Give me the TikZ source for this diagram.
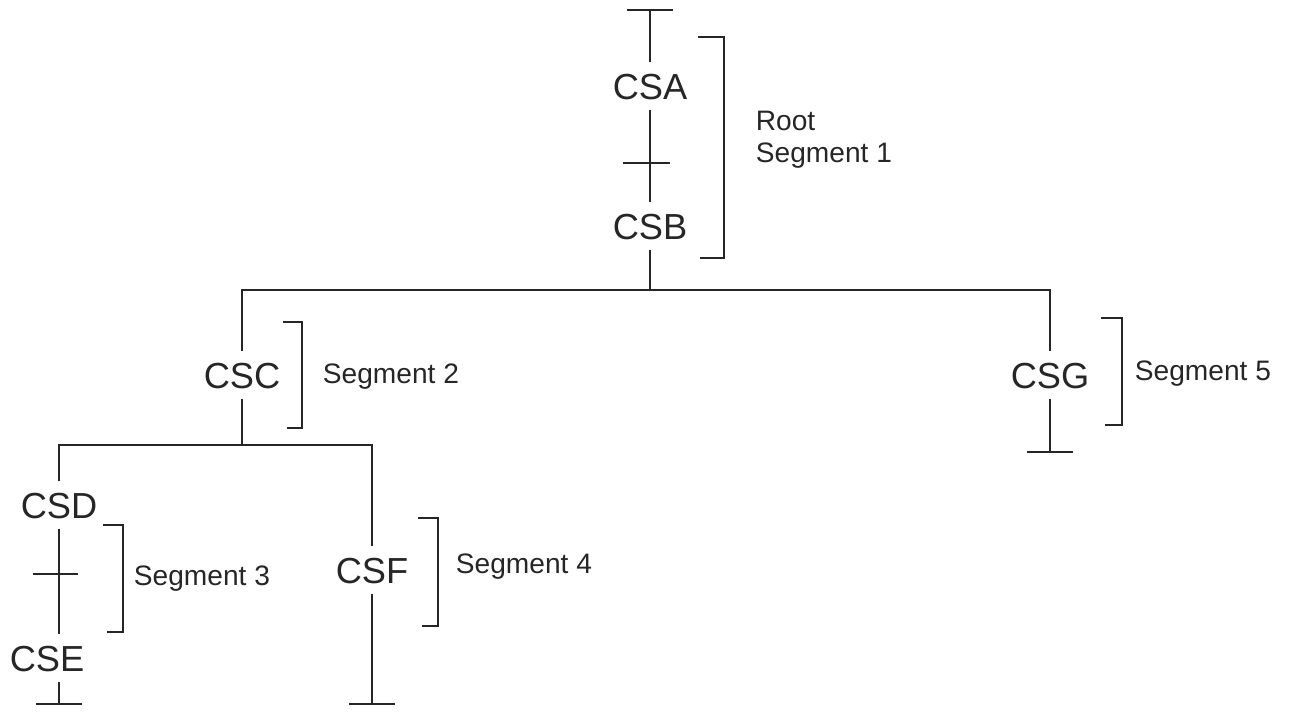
\documentclass[tikz,border=0pt]{standalone}
\usepackage{fontspec}
\setmainfont{Liberation Sans}
\usetikzlibrary{arrows.meta}

\begin{document}
\begin{tikzpicture}[x=0.01cm, y=-0.01cm, line width=0.5pt, color=black!85,
    seg/.style={font=\fontsize{10.3}{12}\selectfont, inner xsep=0,
        inner ysep=0.1cm, text height=0.26cm, text depth=0},
    note/.style={font=\fontsize{8}{10}\selectfont, anchor=base west, inner sep=0},
    tee/.style={-{Bar[width=0.46cm]}}]

    \useasboundingbox (0,0) rectangle (1291,711);

    % Segments
    \node[seg] (CSA) at (650,86) {CSA};
    \node[seg] (CSB) at (650,226) {CSB};
    \node[seg] (CSC) at (242,375) {CSC};
    \node[seg] (CSD) at (59,505) {CSD};
    \node[seg] (CSE) at (47,658) {CSE};
    \node[seg] (CSF) at (372,570) {CSF};
    \node[seg] (CSG) at (1050,375) {CSG};

    % Ends and joints
    \coordinate (topA) at (650,9);
    \coordinate (bar) at (650,290);
    \coordinate (subbar) at (242,445);
    \coordinate (endE) at (59,705);
    \coordinate (endF) at (372,705);
    \coordinate (endG) at (1050,453);
    \coordinate (crossA) at (650,163);
    \coordinate (crossD) at (59,574);

    % Lines
    \draw[tee] (CSA) -- (topA);
    \draw (CSA) -- (CSB);
    \draw (CSB) -- (bar);
    \draw (CSC) -- (CSC |- bar) -- (CSG |- bar) -- (CSG);
    \draw (CSC) -- (subbar);
    \draw (CSD) -- (CSD |- subbar) -- (CSF |- subbar) -- (CSF);
    \draw (CSD) -- (CSD |- CSE.north);
    \draw[tee] (CSD |- CSE.south) -- (endE);
    \draw[tee] (CSF) -- (endF);
    \draw[tee] (CSG) -- (endG);

    % Crossings
    \draw ([xshift=-0.27cm]crossA) -- ([xshift=0.2cm]crossA);
    \draw ([xshift=-0.26cm]crossD) -- ([xshift=0.19cm]crossD);

    % Brackets
    \draw (698,37) -- (724,37) -- (724,258) -- (700,258);
    \draw (283,322) -- (302,322) -- (302,428) -- (287,428);
    \draw (103,525) -- (123,525) -- (123,632) -- (107,632);
    \draw (418,518) -- (438,518) -- (438,626) -- (422,626);
    \draw (1101,318) -- (1122,318) -- (1122,425) -- (1105,425);

    % Labels
    \node[note] (root) at (755,130) {Root};
    \node[note] (seg1) at (755,162) {Segment 1};
    \node[note] (seg2) at (322,383) {Segment 2};
    \node[note] (seg3) at (133,585) {Segment 3};
    \node[note] (seg4) at (455,573) {Segment 4};
    \node[note] (seg5) at (1134,380) {Segment 5};

\end{tikzpicture}
\end{document}
